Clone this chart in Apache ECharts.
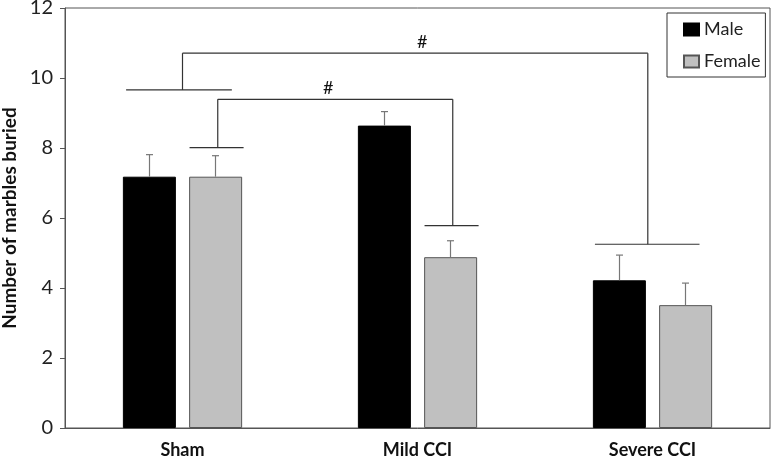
<!DOCTYPE html>
<html>
<head>
<meta charset="utf-8">
<script src="https://cdn.jsdelivr.net/npm/echarts@6/dist/echarts.min.js"></script>
<style>html,body{margin:0;padding:0;background:#fff;}#c{width:771px;height:463px;}</style>
</head>
<body>
<div id="c"></div>
<script>
var categories = ['Sham', 'Mild CCI', 'Severe CCI'];
var maleMeans = [7.18, 8.64, 4.22];
var maleErr = [0.63, 0.40, 0.72];
var femaleMeans = [7.18, 4.88, 3.51];
var femaleErr = [0.60, 0.47, 0.63];
var yTicks = [0, 2, 4, 6, 8, 10, 12];
// significance bracket segments: [x1, y1, x2, y2] in category units / data values
var brackets = [
  [-0.24, 9.66, 0.21, 9.66],
  [0.0, 9.66, 0.0, 10.71],
  [0.0, 10.71, 1.98, 10.71],
  [1.98, 10.71, 1.98, 5.25],
  [1.755, 5.25, 2.20, 5.25],
  [0.03, 8.01, 0.26, 8.01],
  [0.15, 8.01, 0.15, 9.39],
  [0.15, 9.39, 1.15, 9.39],
  [1.15, 9.39, 1.15, 5.78],
  [1.03, 5.78, 1.26, 5.78]
];
var sigMarks = [[1.02, 11.03, '#'], [0.62, 9.70, '#']];

var FONT = 'Lato, "Open Sans", sans-serif';
var chart = echarts.init(document.getElementById('c'), null, {renderer: 'canvas'});

function errItem(offset) {
  return function (params, api) {
    var i = api.value(0);
    var top = api.coord([i, api.value(1) + api.value(2)]);
    var base = api.coord([i, api.value(1)]);
    var x = base[0] + offset;
    return {
      type: 'group',
      children: [
        {type: 'line', shape: {x1: x, y1: base[1], x2: x, y2: top[1]}, style: {stroke: '#777', lineWidth: 1.2}},
        {type: 'line', shape: {x1: x - 3.5, y1: top[1], x2: x + 3.5, y2: top[1]}, style: {stroke: '#777', lineWidth: 1.2}}
      ]
    };
  };
}

chart.setOption({
  animation: false,
  grid: {left: 65, right: 1, top: 8, bottom: 35, show: true, borderColor: '#555', borderWidth: 1,
    containLabel: false, outerBoundsMode: 'none'},
  legend: {
    orient: 'vertical', left: 667, top: 13,
    data: ['Male', 'Female'],
    itemWidth: 15, itemHeight: 12, itemGap: 13,
    padding: [7, 5, 6, 16],
    borderColor: '#333', borderWidth: 1,
    icon: 'rect',
    textStyle: {fontFamily: FONT, fontSize: 18, color: '#222', lineHeight: 19}
  },
  xAxis: [{
    type: 'category', data: categories,
    axisLine: {lineStyle: {color: '#555'}},
    axisTick: {show: false},
    axisLabel: {fontFamily: FONT, fontWeight: 'bold', fontSize: 18, color: '#111', margin: 13}
  }, {
    type: 'value', min: -0.5, max: 2.5, show: false
  }],
  yAxis: {
    type: 'value', min: 0, max: 12, interval: 2,
    name: 'Number of marbles buried', nameLocation: 'middle', nameGap: 44,
    nameTextStyle: {fontFamily: FONT, fontWeight: 'bold', fontSize: 19, color: '#111'},
    axisLine: {show: true, onZero: false, lineStyle: {color: '#555'}},
    axisTick: {show: true, length: 5, lineStyle: {color: '#555'}},
    splitLine: {show: false},
    axisLabel: {fontFamily: FONT, fontSize: 20, color: '#222', margin: 12,
      formatter: function (v) { return yTicks.indexOf(v) >= 0 ? String(v) : ''; }}
  },
  series: [
    {name: 'Male', type: 'bar', data: maleMeans, barWidth: 53, barGap: '25%',
      itemStyle: {color: '#000', borderColor: '#000', borderWidth: 1}},
    {name: 'Female', type: 'bar', data: femaleMeans, barWidth: 53, barGap: '25%',
      itemStyle: {color: '#c0c0c0', borderColor: '#555', borderWidth: 1}},
    {type: 'custom', z: 5, data: maleMeans.map(function (m, i) { return [i, m, maleErr[i]]; }),
      renderItem: errItem(-33)},
    {type: 'custom', z: 5, data: femaleMeans.map(function (m, i) { return [i, m, femaleErr[i]]; }),
      renderItem: errItem(33)},
    {type: 'custom', xAxisIndex: 1, z: 6, data: brackets,
      renderItem: function (params, api) {
        var p1 = api.coord([api.value(0), api.value(1)]);
        var p2 = api.coord([api.value(2), api.value(3)]);
        return {type: 'line', shape: {x1: p1[0], y1: p1[1], x2: p2[0], y2: p2[1]}, style: {stroke: '#333', lineWidth: 1.2}};
      }},
    {type: 'custom', xAxisIndex: 1, z: 6, data: sigMarks,
      renderItem: function (params, api) {
        var p = api.coord([api.value(0), api.value(1)]);
        return {type: 'text', x: p[0], y: p[1], style: {text: sigMarks[params.dataIndex][2], fontFamily: FONT, fontSize: 18, fill: '#111', align: 'center', verticalAlign: 'middle'}};
      }}
  ]
});
</script>
</body>
</html>
